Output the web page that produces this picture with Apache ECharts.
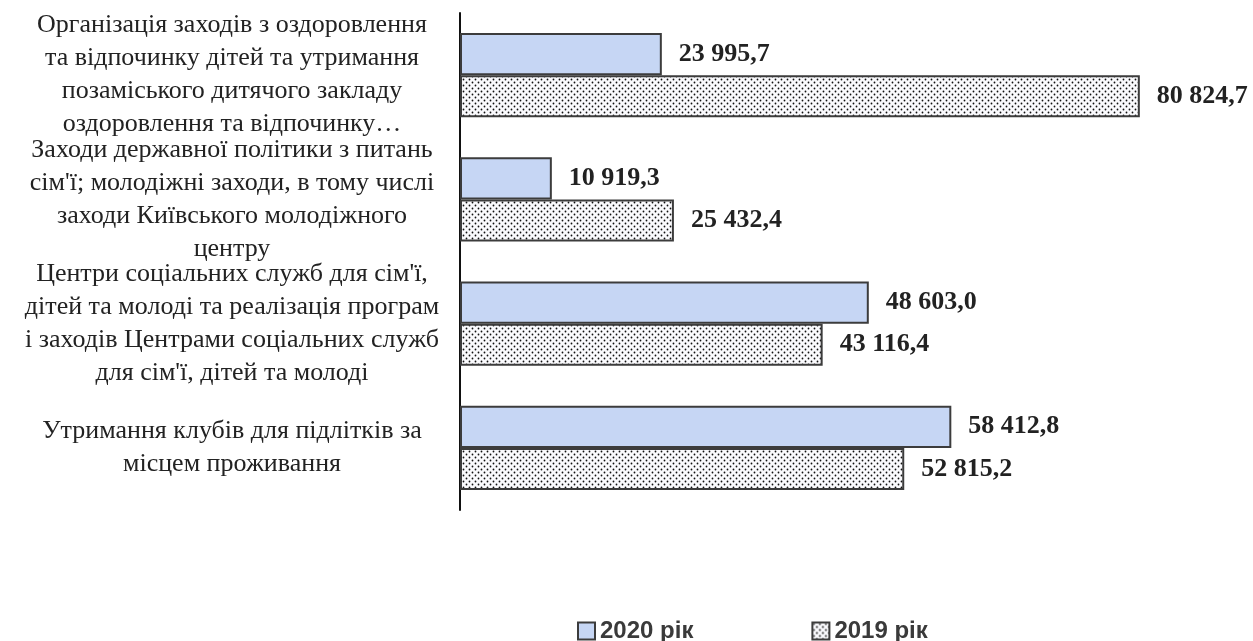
<!DOCTYPE html>
<html lang="uk">
<head>
    <meta http-equiv="Content-Type" content="text/html; charset=utf-8"/>
    <title>Chart</title>
    <script src="https://cdn.jsdelivr.net/npm/echarts@6/dist/echarts.min.js"></script>
</head>
<body style="margin:0;background:#fff;">
<style>
    #chart {
        width: 1253px;
        height: 641px;
    }
</style>
<div id="chart"></div>
<script type="text/javascript">

  var categories = [
    'Організація заходів з оздоровлення\nта відпочинку дітей та утримання\nпозаміського дитячого закладу\nоздоровлення та відпочинку…',
    'Заходи державної політики з питань\nсім\'ї; молодіжні заходи, в тому числі\nзаходи Київського молодіжного\nцентру',
    'Центри соціальних служб для сім\'ї,\nдітей та молоді та реалізація програм\nі заходів Центрами соціальних служб\nдля сім\'ї, дітей та молоді',
    'Утримання клубів для підлітків за\nмісцем проживання'
  ];
  var seriesNames = ['2020 рік', '2019 рік'];
  var values2020 = [23995.7, 10919.3, 48603.0, 58412.8];
  var values2019 = [80824.7, 25432.4, 43116.4, 52815.2];

  // dotted fill for 2019
  function dotPattern() {
    var c = document.createElement('canvas');
    c.width = 6;
    c.height = 6;
    var ctx = c.getContext('2d');
    ctx.fillStyle = '#fafafd';
    ctx.fillRect(0, 0, 6, 6);
    ctx.fillStyle = '#111';
    ctx.beginPath();
    ctx.arc(1.5, 1.5, 0.9, 0, Math.PI * 2);
    ctx.fill();
    ctx.beginPath();
    ctx.arc(4.5, 4.5, 0.9, 0, Math.PI * 2);
    ctx.fill();
    return c;
  }

  function fmt(v) {
    var parts = v.toFixed(1).split('.');
    return parts[0].replace(/\B(?=(\d{3})+(?!\d))/g, ' ') + ',' + parts[1];
  }

  var labelStyle = {
    show: true,
    position: 'right',
    distance: 17,
    fontFamily: 'Liberation Serif',
    fontWeight: 'bold',
    fontSize: 26,
    color: '#222',
    formatter: function (p) {
      return fmt(p.value);
    }
  };

  var myChart = echarts.init(document.getElementById('chart'));
  var option = {
    animation: false,
    grid: {
      left: 460,
      right: 36,
      top: 13,
      bottom: 131
    },
    legend: {
      top: 614,
      left: 572,
      itemGap: 118,
      itemWidth: 17,
      itemHeight: 17,
      icon: 'rect',
      textStyle: {
        fontFamily: 'Liberation Sans',
        fontWeight: 'bold',
        fontSize: 24,
        color: '#3a3a3a'
      },
      data: seriesNames
    },
    xAxis: {
      type: 'value',
      min: 0,
      max: 90000,
      show: false
    },
    yAxis: {
      type: 'category',
      inverse: true,
      data: categories,
      axisLine: {
        lineStyle: { color: '#111', width: 2 }
      },
      axisTick: { show: false },
      axisLabel: {
        interval: 0,
        align: 'center',
        margin: 228,
        fontFamily: 'Liberation Serif',
        fontSize: 26,
        lineHeight: 33,
        color: '#222'
      }
    },
    series: [
      {
        name: seriesNames[0],
        type: 'bar',
        data: values2020,
        barGap: '0%',
        barCategoryGap: '32%',
        itemStyle: {
          color: '#c6d6f4',
          borderColor: '#3c3c3c',
          borderWidth: 2
        },
        label: labelStyle
      },
      {
        name: seriesNames[1],
        type: 'bar',
        data: values2019,
        barGap: '0%',
        barCategoryGap: '32%',
        itemStyle: {
          color: { image: dotPattern(), repeat: 'repeat' },
          borderColor: '#3c3c3c',
          borderWidth: 2
        },
        label: labelStyle
      }
    ]
  };
  myChart.setOption(option);
</script>
</body>
</html>
